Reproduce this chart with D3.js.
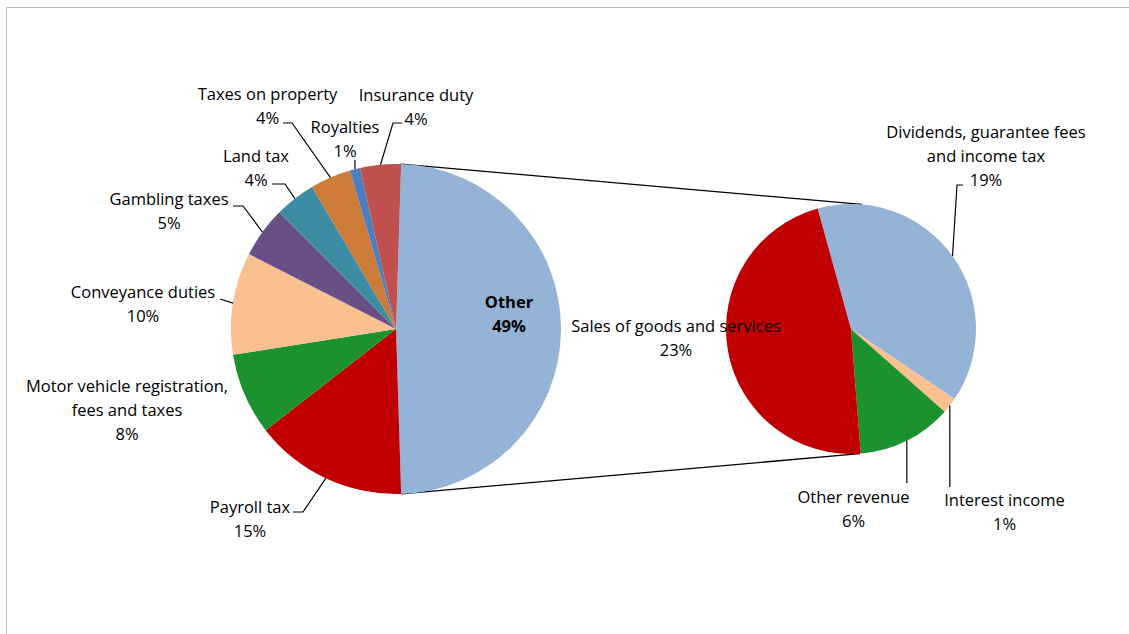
<!DOCTYPE html>
<html><head><meta charset="utf-8">
<script src="https://cdn.jsdelivr.net/npm/d3@7"></script>
<style>body{margin:0;background:#fff}text{font-family:"Open Sans",Lato,sans-serif;fill:#000}</style>
</head><body><svg id="c" width="1129" height="634"></svg>
<script>
// ---- data ----
const mainCats = ["Other","Payroll tax","Motor vehicle registration, fees and taxes","Conveyance duties","Gambling taxes","Land tax","Taxes on property","Royalties","Insurance duty"];
const mainVals = [49,15,8,10,5,4,4,1,4];
const mainLabelLines = [["Other"],["Payroll tax"],["Motor vehicle registration,","fees and taxes"],["Conveyance duties"],["Gambling taxes"],["Land tax"],["Taxes on property"],["Royalties"],["Insurance duty"]];
const subCats = ["Dividends, guarantee fees and income tax","Interest income","Other revenue","Sales of goods and services"];
const subVals = [19,1,6,23];
const subLabelLines = [["Dividends, guarantee fees","and income tax"],["Interest income"],["Other revenue"],["Sales of goods and services"]];

// ---- styles / layout ----
const mainColors = ["#95B3D7","#C00000","#1B922F","#FAC090","#684F86","#3C8DA4","#CD7B39","#4A7EBF","#C0504D"];
const subColors = ["#95B3D7","#FAC090","#1B922F","#C00000"];
const FS = 16.5, LH = 24;
const main = {cx:396, cy:329, r:165};
const sub = {cx:851, cy:329, r:125, start:-15.5};
// label anchors: [centerX, firstBaseline], leader: points from label side (elbow), ending at slice edge
const mainLayout = [
  {x:509,y:308,bold:true},
  {x:250,y:513,leader:[[293,512],[303,512]]},
  {x:127,y:392},
  {x:143,y:298,leader:[[220,299]]},
  {x:169,y:205,leader:[[233,206],[243,206]]},
  {x:256,y:162,leader:[[272,184],[285,184]]},
  {x:267.5,y:100,leader:[[283,123],[292,123]]},
  {x:345,y:133,leader:[["v",160]]},
  {x:416,y:101,leader:[[402,123],[393,123]]}
];
const subLayout = [
  {x:986,y:138,leader:[[963,185],[957,185]]},
  {x:1004.5,y:506,leader:[["v",487]]},
  {x:853.5,y:503,leader:[["v",483]]},
  {x:676,y:332}
];
const connAngles = [5,176];

const svg = d3.select("#c");
svg.append("rect").attr("x",6.5).attr("y",7.5).attr("width",1140).attr("height",650)
  .attr("fill","none").attr("stroke","#BFBFBF").attr("stroke-width",1);

const rad = d => d*Math.PI/180;
const total = d3.sum(mainVals);
const mStart = Math.PI/2 - mainVals[0]/total*Math.PI;
const mainPie = d3.pie().sort(null).startAngle(mStart).endAngle(mStart+2*Math.PI)(mainVals);
const subPie = d3.pie().sort(null).startAngle(rad(sub.start)).endAngle(rad(sub.start)+2*Math.PI)(subVals);
const arcM = d3.arc().innerRadius(0).outerRadius(main.r);
const arcS = d3.arc().innerRadius(0).outerRadius(sub.r);
const pt = (c,a,r) => [c.cx + r*Math.sin(a), c.cy - r*Math.cos(a)];

// connectors
const o = mainPie[0];
const c1 = pt(main,o.startAngle,main.r), c2 = pt(main,o.endAngle,main.r);
const s1 = pt(sub,rad(connAngles[0]),sub.r), s2 = pt(sub,rad(connAngles[1]),sub.r);
svg.append("line").attr("x1",c1[0]).attr("y1",c1[1]).attr("x2",s1[0]).attr("y2",s1[1]).attr("stroke","#000").attr("stroke-width",1.3);
svg.append("line").attr("x1",c2[0]).attr("y1",c2[1]).attr("x2",s2[0]).attr("y2",s2[1]).attr("stroke","#000").attr("stroke-width",1.3);

svg.append("g").attr("transform",`translate(${main.cx},${main.cy})`)
  .selectAll("path").data(mainPie).join("path").attr("d",arcM).attr("fill",(d,i)=>mainColors[i]);
svg.append("g").attr("transform",`translate(${sub.cx},${sub.cy})`)
  .selectAll("path").data(subPie).join("path").attr("d",arcS).attr("fill",(d,i)=>subColors[i]);

function drawLabels(pie, center, lines, layout, vals){
  pie.forEach((d,i)=>{
    const L = layout[i];
    const mid = (d.startAngle+d.endAngle)/2;
    const edge = pt(center, mid, center.r);
    if (L.leader){
      const pts = L.leader.map(p => p[0]==="v" ? [edge[0],p[1]] : p);
      pts.push(edge);
      svg.append("path").attr("d",d3.line()(pts)).attr("fill","none").attr("stroke","#000").attr("stroke-width",1.2);
    }
    const t = svg.append("text").attr("text-anchor","middle").attr("font-size",FS)
      .attr("font-weight",L.bold?"bold":"normal");
    const all = lines[i].concat([vals[i]+"%"]);
    all.forEach((s,k)=>t.append("tspan").attr("x",L.x).attr("y",L.y+k*LH).text(s));
  });
}
drawLabels(mainPie, main, mainLabelLines, mainLayout, mainVals);
drawLabels(subPie, sub, subLabelLines, subLayout, subVals);
</script></body></html>
